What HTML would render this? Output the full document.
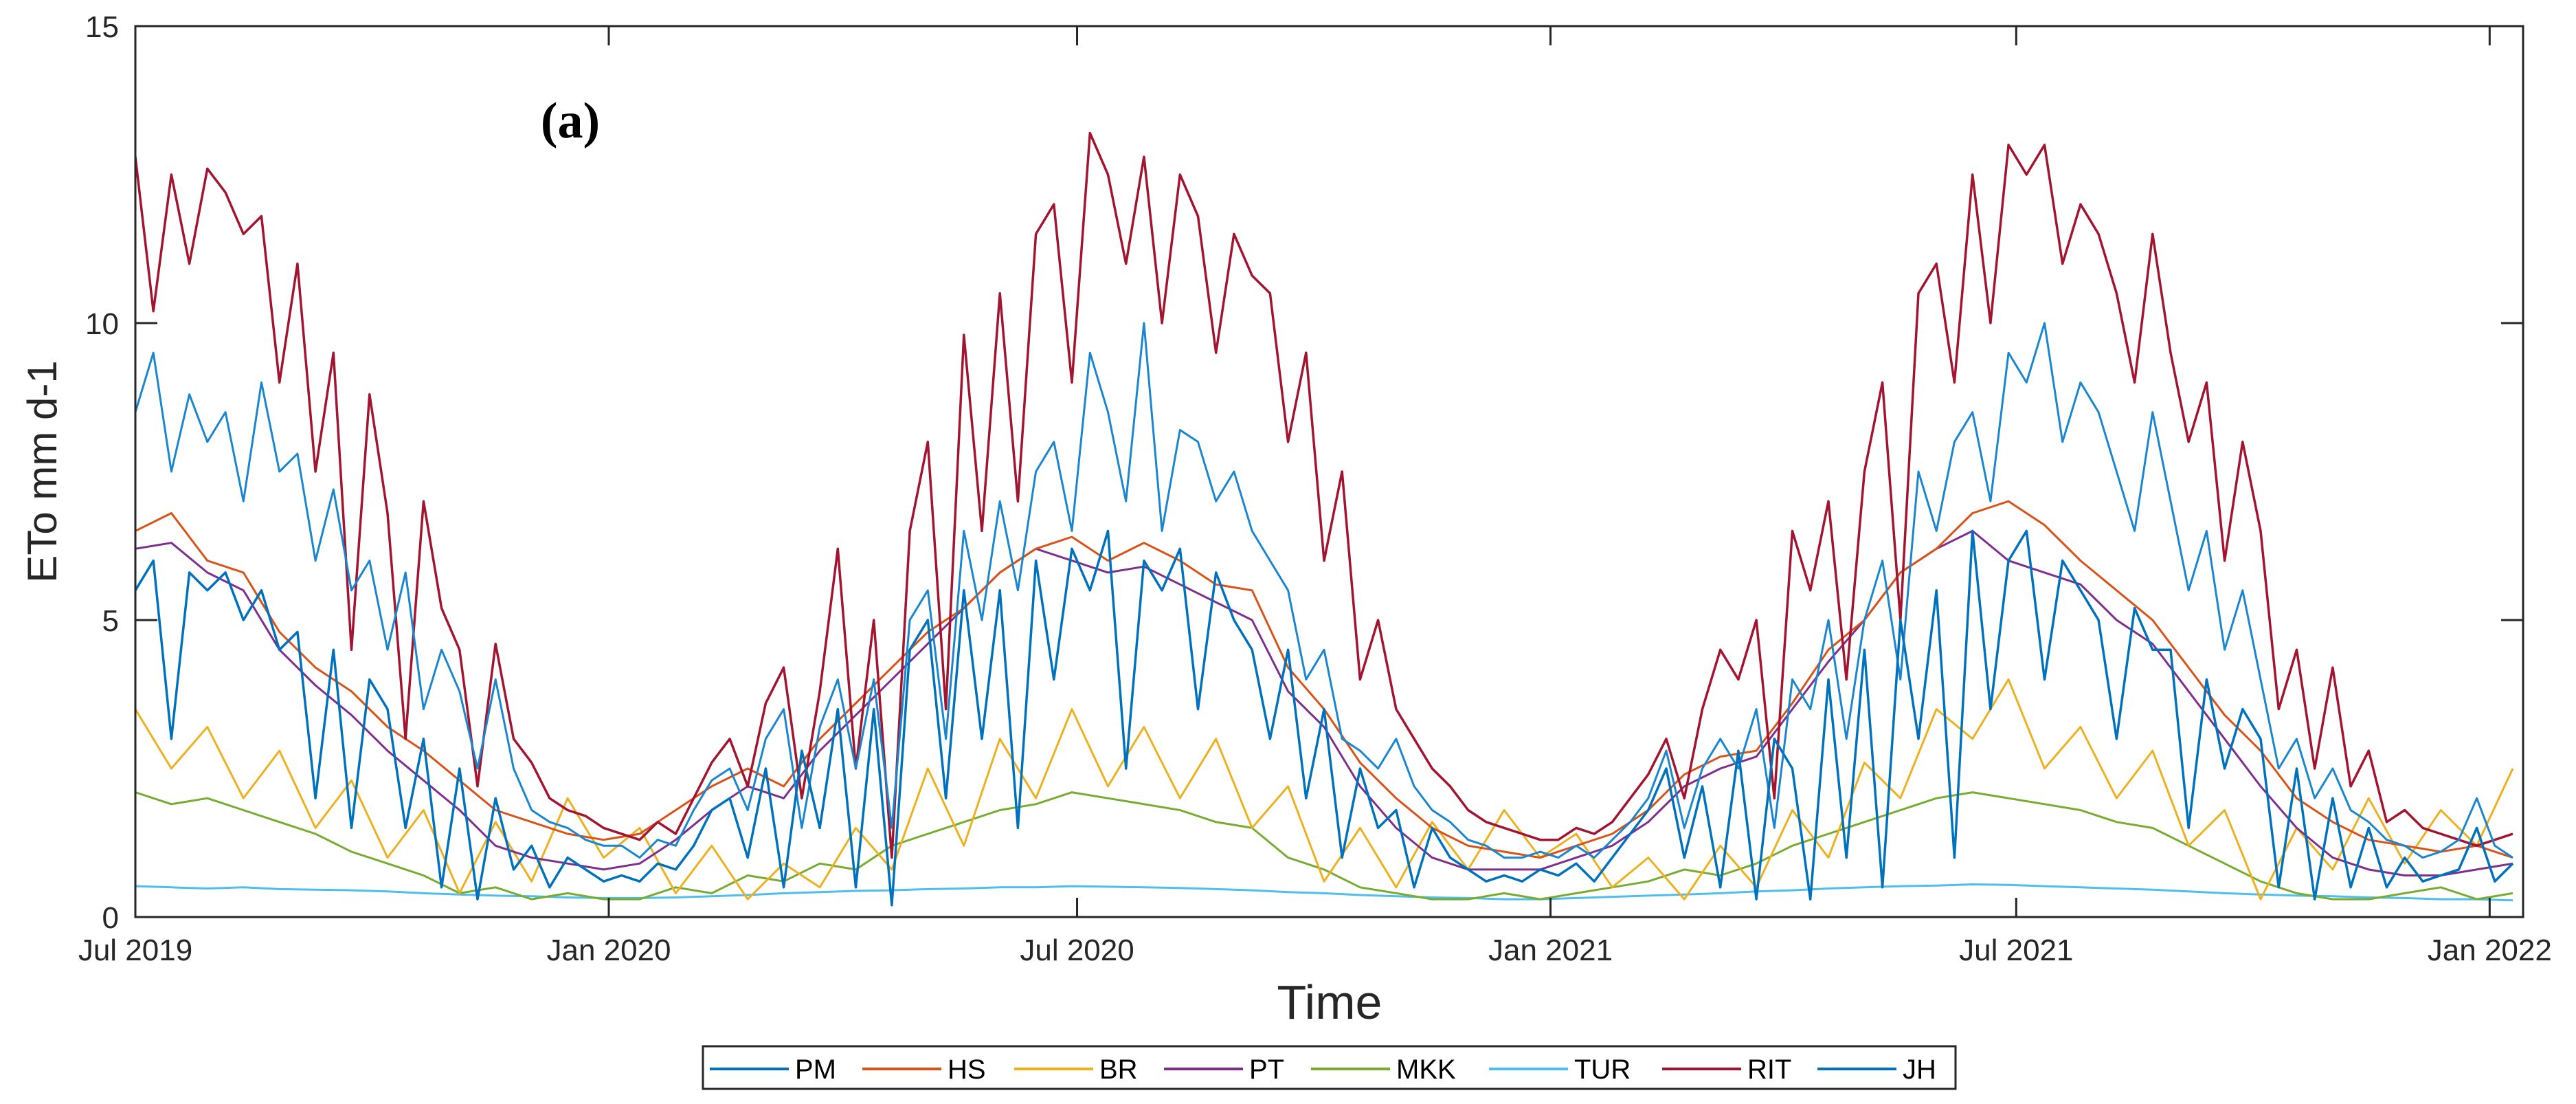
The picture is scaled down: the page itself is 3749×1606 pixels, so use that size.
<!DOCTYPE html>
<html><head><meta charset="utf-8">
<style>
html,body{margin:0;padding:0;background:#fff;}
svg{display:block;}
text{font-family:"Liberation Sans",Arial,sans-serif;fill:#262626;}
</style></head>
<body>
<svg id="chart" width="3749" height="1606" viewBox="0 0 3749 1606" xmlns="http://www.w3.org/2000/svg">
<defs><clipPath id="plotclip"><rect x="197" y="38" width="3475" height="1296"/></clipPath></defs>
<rect x="0" y="0" width="3749" height="1606" fill="#fff"/>
<g id="series" clip-path="url(#plotclip)"></g>
<g id="axes"></g>
<text x="830" y="200" text-anchor="middle" style="font-family:'Liberation Serif',serif;font-weight:bold;font-size:74px;fill:#000">(a)</text>
<text x="1935" y="1482" text-anchor="middle" style="font-size:70px">Time</text>
<text transform="translate(82,686) rotate(-90)" text-anchor="middle" style="font-size:60px">ETo mm d-1</text>
<g id="legend"></g>
</svg>
<script>
// ---- data ----
const weeklyStep = 7;     // days between weekly samples
const biweeklyStep = 14;  // days between biweekly samples
const xTickLabels = ["Jul 2019","Jan 2020","Jul 2020","Jan 2021","Jul 2021","Jan 2022"];
const xTickDays = [0,184,366,550,731,915];
const yTickValues = [0,5,10,15];
const seriesNames = ["PM","HS","BR","PT","MKK","TUR","RIT","JH"];

const ritValues = [12.8,10.2,12.5,11.0,12.6, 12.2,11.5,11.8,9.0, 11.0,7.5,9.5,4.5,8.8, 6.8,3.0,7.0,5.2, 4.5,2.2,4.6,3.0, 2.6,2.0,1.8,1.7,1.5,
 1.4,1.3,1.6,1.4, 2.0,2.6,3.0,2.2, 3.6,4.2,2.0,3.8,6.2, 2.5,5.0,1.0,6.5, 8.0,3.5,9.8,6.5, 10.5,7.0,11.5,12.0,9.0,
 13.2,12.5,11.0,12.8, 10.0,12.5,11.8,9.5, 11.5,10.8,10.5,8.0,9.5, 6.0,7.5,4.0,5.0, 3.5,3.0,2.5,2.2, 1.8,1.6,1.5,1.4,1.3,
 1.3,1.5,1.4,1.6, 2.0,2.4,3.0,2.0, 3.5,4.5,4.0,5.0,2.0, 6.5,5.5,7.0,4.0, 7.5,9.0,5.0,10.5, 11.0,9.0,12.5,10.0,13.0,
 12.5,13.0,11.0,12.0, 11.5,10.5,9.0,11.5, 9.5,8.0,9.0,6.0,8.0, 6.5,3.5,4.5,2.5, 4.2,2.2,2.8,1.6, 1.8,1.5,1.4,1.3,1.2,
 1.3,1.4];

const pmValues = [8.5,9.5,7.5,8.8,8.0, 8.5,7.0,9.0,7.5, 7.8,6.0,7.2,5.5,6.0, 4.5,5.8,3.5,4.5, 3.8,2.5,4.0,2.5, 1.8,1.6,1.5,1.3,1.2,
 1.2,1.0,1.3,1.2, 1.8,2.3,2.5,1.8, 3.0,3.5,1.5,3.2,4.0, 2.5,4.0,1.5,5.0, 5.5,3.0,6.5,5.0, 7.0,5.5,7.5,8.0,6.5,
 9.5,8.5,7.0,10.0, 6.5,8.2,8.0,7.0, 7.5,6.5,6.0,5.5,4.0, 4.5,3.0,2.8,2.5, 3.0,2.2,1.8,1.6, 1.3,1.2,1.0,1.0,1.1,
 1.0,1.2,1.0,1.3, 1.6,2.0,2.8,1.5, 2.5,3.0,2.5,3.5,1.5, 4.0,3.5,5.0,3.0, 5.0,6.0,4.0,7.5, 6.5,8.0,8.5,7.0,9.5,
 9.0,10.0,8.0,9.0, 8.5,7.5,6.5,8.5, 7.0,5.5,6.5,4.5,5.5, 4.0,2.5,3.0,2.0, 2.5,1.8,1.6,1.3, 1.2,1.0,1.1,1.3,2.0,
 1.2,1.0];

const jhValues = [5.5,6.0,3.0,5.8,5.5, 5.8,5.0,5.5,4.5, 4.8,2.0,4.5,1.5,4.0, 3.5,1.5,3.0,0.5, 2.5,0.3,2.0,0.8, 1.2,0.5,1.0,0.8,0.6,
 0.7,0.6,0.9,0.8, 1.2,1.8,2.0,1.0, 2.5,0.5,2.8,1.5,3.5, 0.5,3.5,0.2,4.5, 5.0,2.0,5.5,3.0, 5.5,1.5,6.0,4.0,6.2,
 5.5,6.5,2.5,6.0, 5.5,6.2,3.5,5.8, 5.0,4.5,3.0,4.5,2.0, 3.5,1.0,2.5,1.5, 1.8,0.5,1.5,1.0, 0.8,0.6,0.7,0.6,0.8,
 0.7,0.9,0.6,1.0, 1.4,1.8,2.5,1.0, 2.2,0.5,2.8,0.3,3.0, 2.5,0.3,4.0,1.0, 4.5,0.5,5.0,3.0, 5.5,1.0,6.5,3.5,6.0,
 6.5,4.0,6.0,5.5, 5.0,3.0,5.2,4.5, 4.5,1.5,4.0,2.5,3.5, 3.0,0.5,2.5,0.3, 2.0,0.5,1.5,0.5, 1.0,0.6,0.7,0.8,1.5,
 0.6,0.9];

const hsValues = [6.5,6.8,6.0,5.8,4.8, 4.2,3.8,3.2,2.8,2.3, 1.8,1.6,1.4,1.3,1.4, 1.8,2.2,2.5,2.2,3.0, 3.6,4.2,4.8,5.2,5.8,
 6.2,6.4,6.0,6.3,6.0, 5.6,5.5,4.2,3.5,2.6, 2.0,1.5,1.2,1.1,1.0, 1.2,1.4,1.8,2.4,2.7, 2.8,3.6,4.5,5.0,5.8,
 6.2,6.8,7.0,6.6,6.0, 5.5,5.0,4.2,3.4,2.8, 2.0,1.6,1.3,1.2,1.1, 1.2,1.0];

const ptValues = [6.2,6.3,5.8,5.5,4.5, 3.9,3.4,2.8,2.3,1.8, 1.2,1.0,0.9,0.8,0.9, 1.3,1.8,2.2,2.0,2.8, 3.4,4.0,4.6,5.2,5.8,
 6.2,6.0,5.8,5.9,5.6, 5.3,5.0,3.8,3.2,2.2, 1.5,1.0,0.8,0.8,0.8, 1.0,1.2,1.6,2.2,2.5, 2.7,3.5,4.3,5.0,5.8,
 6.2,6.5,6.0,5.8,5.6, 5.0,4.6,3.8,3.0,2.2, 1.5,1.0,0.8,0.7,0.7, 0.8,0.9];

const brValues = [3.5,2.5,3.2,2.0,2.8, 1.5,2.3,1.0,1.8,0.4, 1.6,0.6,2.0,1.0,1.5, 0.4,1.2,0.3,0.9,0.5, 1.5,0.8,2.5,1.2,3.0,
 2.0,3.5,2.2,3.2,2.0, 3.0,1.5,2.2,0.6,1.5, 0.5,1.6,0.8,1.8,1.0, 1.4,0.5,1.0,0.3,1.2, 0.5,1.8,1.0,2.6,2.0,
 3.5,3.0,4.0,2.5,3.2, 2.0,2.8,1.2,1.8,0.3, 1.5,0.8,2.0,0.9,1.8, 1.2,2.5];

const mkkValues = [2.1,1.9,2.0,1.8,1.6, 1.4,1.1,0.9,0.7,0.4, 0.5,0.3,0.4,0.3,0.3, 0.5,0.4,0.7,0.6,0.9, 0.8,1.2,1.4,1.6,1.8,
 1.9,2.1,2.0,1.9,1.8, 1.6,1.5,1.0,0.8,0.5, 0.4,0.3,0.3,0.4,0.3, 0.4,0.5,0.6,0.8,0.7, 0.9,1.2,1.4,1.6,1.8,
 2.0,2.1,2.0,1.9,1.8, 1.6,1.5,1.2,0.9,0.6, 0.4,0.3,0.3,0.4,0.5, 0.3,0.4];

const turValues = [0.52,0.50,0.48,0.50,0.47, 0.46,0.45,0.43,0.40,0.38, 0.36,0.35,0.33,0.32,0.32, 0.33,0.35,0.37,0.40,0.42,
 0.44,0.45,0.47,0.48,0.50, 0.50,0.52,0.51,0.50,0.49, 0.47,0.45,0.42,0.40,0.37, 0.35,0.33,0.32,0.30,0.30,
 0.32,0.34,0.36,0.38,0.40, 0.43,0.45,0.48,0.50,0.52, 0.53,0.55,0.54,0.52,0.50, 0.48,0.46,0.43,0.40,0.38,
 0.36,0.35,0.33,0.32,0.30, 0.30,0.28];

// ---- scales ----
const X0 = 197, X1 = 3672, Y0 = 1334, YT = 38;
const DAY_MAX = 928, Y_MAX = 15;
function xScale(d){ return X0 + d * (X1 - X0) / DAY_MAX; }
function yScale(v){ return Y0 - v * (Y0 - YT) / Y_MAX; }

const NS = "http://www.w3.org/2000/svg";
const seriesG = document.getElementById("series");
const axesG = document.getElementById("axes");
const legendG = document.getElementById("legend");

function drawSeries(vals, step, color, name, width){
  let d = "";
  for (let i = 0; i < vals.length; i++){
    d += (i ? "L" : "M") + xScale(i * step).toFixed(1) + "," + yScale(vals[i]).toFixed(1);
  }
  const p = document.createElementNS(NS, "path");
  p.setAttribute("d", d);
  p.setAttribute("fill", "none");
  p.setAttribute("stroke", color);
  p.setAttribute("stroke-width", width);
  p.setAttribute("stroke-linejoin", "round");
  
  
  seriesG.appendChild(p);
}

drawSeries(turValues, biweeklyStep, "#4DBEEE", "TUR", 3);
drawSeries(mkkValues, biweeklyStep, "#77AC30", "MKK", 3);
drawSeries(brValues, biweeklyStep, "#EDB120", "BR", 3);
drawSeries(ptValues, biweeklyStep, "#7E2F8E", "PT", 3);
drawSeries(hsValues, biweeklyStep, "#D95319", "HS", 3);
drawSeries(ritValues, weeklyStep, "#A2142F", "RIT", 3.5);
drawSeries(pmValues, weeklyStep, "#1a86cf", "PM", 3);
drawSeries(jhValues, weeklyStep, "#0072BD", "JH", 3.5);

// ---- axes ----
function line(x1,y1,x2,y2,name,w){
  const l = document.createElementNS(NS, "line");
  l.setAttribute("x1",x1); l.setAttribute("y1",y1); l.setAttribute("x2",x2); l.setAttribute("y2",y2);
  l.setAttribute("stroke","#262626"); l.setAttribute("stroke-width",w||3);
  
  
  axesG.appendChild(l);
}
function text(x,y,s,anchor,size,name){
  const t = document.createElementNS(NS, "text");
  t.setAttribute("x",x); t.setAttribute("y",y);
  t.setAttribute("text-anchor",anchor);
  t.setAttribute("font-size",size);
  t.textContent = s;
  
  
  axesG.appendChild(t);
}
const frame = document.createElementNS(NS, "rect");
frame.setAttribute("x", X0); frame.setAttribute("y", YT);
frame.setAttribute("width", X1 - X0); frame.setAttribute("height", Y0 - YT);
frame.setAttribute("fill","none"); frame.setAttribute("stroke","#262626"); frame.setAttribute("stroke-width",3);


axesG.appendChild(frame);

yTickValues.forEach(v => {
  const y = yScale(v);
  line(X0, y, X0 + 32, y, "y-tick-left");
  line(X1, y, X1 - 32, y, "y-tick-right");
  text(173, y + 16, String(v), "end", 44, "y-tick-label");
});
xTickDays.forEach((d, i) => {
  const x = xScale(d);
  line(x, Y0, x, Y0 - 28, "x-tick-bottom");
  line(x, YT, x, YT + 28, "x-tick-top");
  text(x, 1397, xTickLabels[i], "middle", 44, "x-tick-label");
});

// ---- legend ----
const legendColors = ["#0072BD","#D95319","#EDB120","#7E2F8E","#77AC30","#4DBEEE","#A2142F","#0072BD"];
const legendLineX = [1033,1255,1476,1694,1908,2167,2419,2645];
const box = document.createElementNS(NS, "rect");
box.setAttribute("x",1023); box.setAttribute("y",1522); box.setAttribute("width",1823); box.setAttribute("height",62);
box.setAttribute("fill","#fff"); box.setAttribute("stroke","#262626"); box.setAttribute("stroke-width",3);


legendG.appendChild(box);
seriesNames.forEach((n, i) => {
  const lx = legendLineX[i];
  const l = document.createElementNS(NS, "line");
  l.setAttribute("x1", lx); l.setAttribute("x2", lx + 115);
  l.setAttribute("y1", 1555); l.setAttribute("y2", 1555);
  l.setAttribute("stroke", legendColors[i]); l.setAttribute("stroke-width", 4);
  
  
  legendG.appendChild(l);
  const t = document.createElementNS(NS, "text");
  t.setAttribute("x", lx + 124); t.setAttribute("y", 1569);
  t.setAttribute("font-size", 40);
  t.style.fill = "#000";
  t.textContent = n;
  
  
  legendG.appendChild(t);
});
</script>
</body></html>
